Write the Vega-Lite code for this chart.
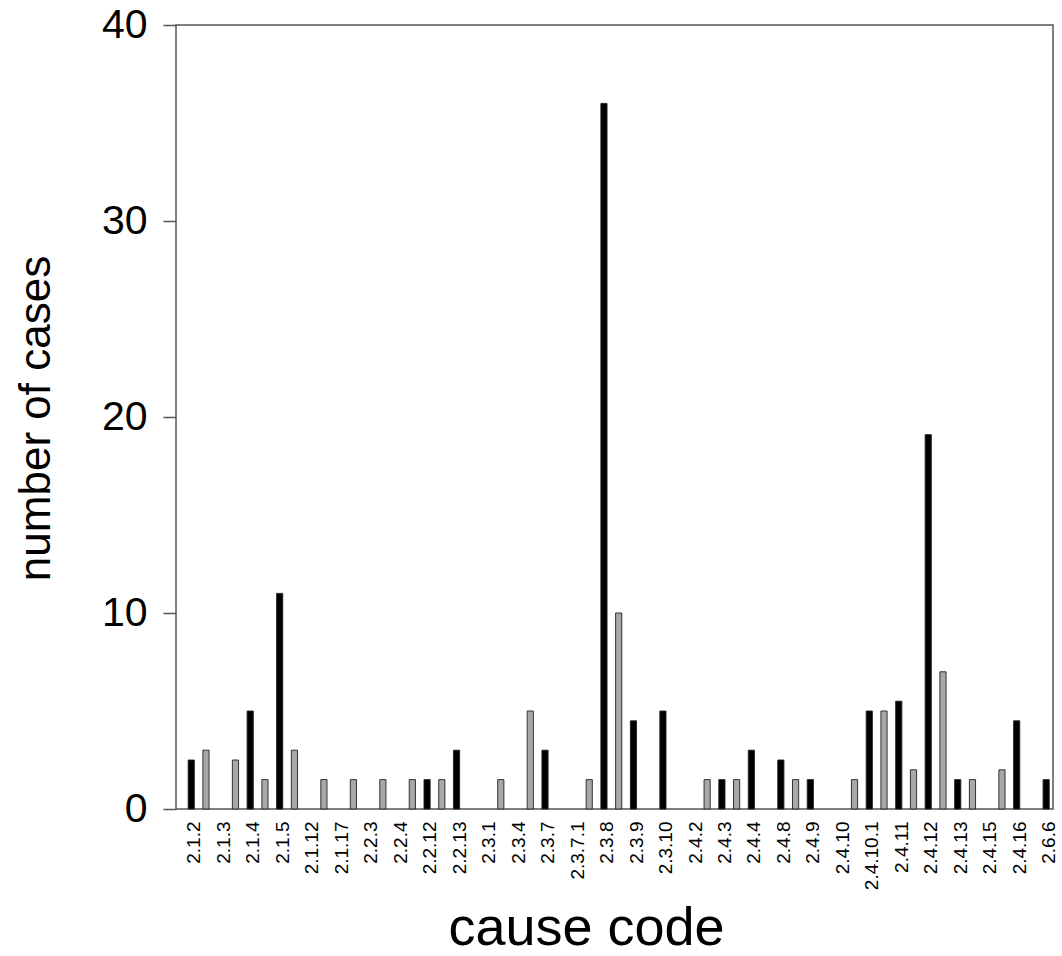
{
  "$schema": "https://vega.github.io/schema/vega-lite/v6.json",
  "autosize": "none",
  "padding": {"left": 176, "top": 25, "right": 9, "bottom": 146},
  "width": 877,
  "height": 784,
  "background": "white",
  "config": {
    "font": "Liberation Sans",
    "view": {"stroke": "#555555", "strokeWidth": 1.5}
  },
  "data": {
    "values": [
      {"code": "2.1.2", "series": "series 1", "cases": 2.5},
      {"code": "2.1.2", "series": "series 2", "cases": 3.0},
      {"code": "2.1.3", "series": "series 2", "cases": 2.5},
      {"code": "2.1.4", "series": "series 1", "cases": 5.0},
      {"code": "2.1.4", "series": "series 2", "cases": 1.5},
      {"code": "2.1.5", "series": "series 1", "cases": 11.0},
      {"code": "2.1.5", "series": "series 2", "cases": 3.0},
      {"code": "2.1.12", "series": "series 2", "cases": 1.5},
      {"code": "2.1.17", "series": "series 2", "cases": 1.5},
      {"code": "2.2.3", "series": "series 2", "cases": 1.5},
      {"code": "2.2.4", "series": "series 2", "cases": 1.5},
      {"code": "2.2.12", "series": "series 1", "cases": 1.5},
      {"code": "2.2.12", "series": "series 2", "cases": 1.5},
      {"code": "2.2.13", "series": "series 1", "cases": 3.0},
      {"code": "2.3.1", "series": "series 2", "cases": 1.5},
      {"code": "2.3.4", "series": "series 2", "cases": 5.0},
      {"code": "2.3.7", "series": "series 1", "cases": 3.0},
      {"code": "2.3.7.1", "series": "series 2", "cases": 1.5},
      {"code": "2.3.8", "series": "series 1", "cases": 36.0},
      {"code": "2.3.8", "series": "series 2", "cases": 10.0},
      {"code": "2.3.9", "series": "series 1", "cases": 4.5},
      {"code": "2.3.10", "series": "series 1", "cases": 5.0},
      {"code": "2.4.2", "series": "series 2", "cases": 1.5},
      {"code": "2.4.3", "series": "series 1", "cases": 1.5},
      {"code": "2.4.3", "series": "series 2", "cases": 1.5},
      {"code": "2.4.4", "series": "series 1", "cases": 3.0},
      {"code": "2.4.8", "series": "series 1", "cases": 2.5},
      {"code": "2.4.8", "series": "series 2", "cases": 1.5},
      {"code": "2.4.9", "series": "series 1", "cases": 1.5},
      {"code": "2.4.10", "series": "series 2", "cases": 1.5},
      {"code": "2.4.10.1", "series": "series 1", "cases": 5.0},
      {"code": "2.4.10.1", "series": "series 2", "cases": 5.0},
      {"code": "2.4.11", "series": "series 1", "cases": 5.5},
      {"code": "2.4.11", "series": "series 2", "cases": 2.0},
      {"code": "2.4.12", "series": "series 1", "cases": 19.1},
      {"code": "2.4.12", "series": "series 2", "cases": 7.0},
      {"code": "2.4.13", "series": "series 1", "cases": 1.5},
      {"code": "2.4.13", "series": "series 2", "cases": 1.5},
      {"code": "2.4.15", "series": "series 2", "cases": 2.0},
      {"code": "2.4.16", "series": "series 1", "cases": 4.5},
      {"code": "2.6.6", "series": "series 1", "cases": 1.5}
    ]
  },
  "mark": {"type": "bar", "width": {"band": 0.42}, "stroke": "#222222", "strokeWidth": 0.9},
  "encoding": {
    "x": {
      "field": "code",
      "type": "nominal",
      "sort": null,
      "scale": {"range": [3.6, 888], "paddingInner": 0, "paddingOuter": 0},
      "axis": {
        "title": "cause code",
        "titleFontSize": 54,
        "titleFontWeight": "normal",
        "titleColor": "black",
        "titleX": 410,
        "titleY": 135,
        "titleAlign": "center",
        "titleBaseline": "alphabetic",
        "labelAngle": -90,
        "labelFontSize": 19,
        "labelColor": "black",
        "labelPadding": 12,
        "ticks": false,
        "domain": false,
        "grid": false
      }
    },
    "xOffset": {"field": "series", "type": "nominal", "scale": {"domain": ["series 1", "series 2"]}},
    "y": {
      "field": "cases",
      "type": "quantitative",
      "scale": {"domain": [0, 40], "nice": false},
      "axis": {
        "title": "number of cases",
        "titleFontSize": 44,
        "titleFontWeight": "normal",
        "titleColor": "black",
        "titleAngle": -90,
        "titleX": -127,
        "titleY": 393,
        "titleAlign": "center",
        "titleBaseline": "alphabetic",
        "values": [0, 10, 20, 30, 40],
        "labelFontSize": 41,
        "labelColor": "black",
        "labelPadding": 16,
        "tickSize": 13,
        "tickColor": "#555555",
        "tickWidth": 1.5,
        "domain": false,
        "grid": false
      }
    },
    "color": {
      "field": "series",
      "type": "nominal",
      "scale": {"domain": ["series 1", "series 2"], "range": ["#000000", "#a8a8a8"]},
      "legend": null
    }
  }
}
